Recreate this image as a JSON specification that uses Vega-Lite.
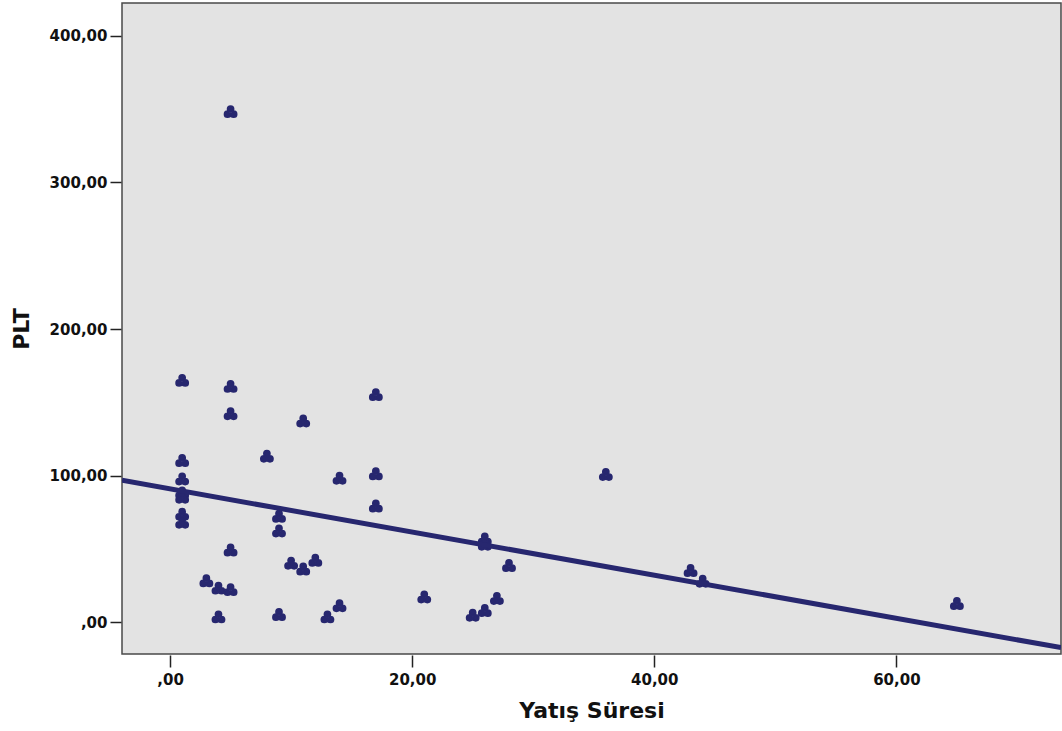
{
  "$schema": "https://vega.github.io/schema/vega-lite/v6.json",
  "width": 939,
  "height": 651,
  "autosize": {"type": "none"},
  "padding": {"left": 122, "top": 3, "right": 1, "bottom": 77},
  "background": "white",
  "config": {
    "view": {"fill": "#e3e3e3", "stroke": "#4a4a4a", "strokeWidth": 1.5},
    "axis": {
      "labelFont": "DejaVu Sans", "labelFontWeight": "bold", "labelFontSize": 15, "labelColor": "#111",
      "titleFont": "DejaVu Sans", "titleFontWeight": "bold", "titleFontSize": 22, "titleColor": "#111",
      "tickColor": "#222", "tickWidth": 1.5, "domain": false, "grid": false
    }
  },
  "data": {"values": [
    {"x": 5, "y": 348}, {"x": 1, "y": 164.7}, {"x": 5, "y": 160.6}, {"x": 5, "y": 142},
    {"x": 1, "y": 110}, {"x": 1, "y": 97.5}, {"x": 1, "y": 88}, {"x": 1, "y": 85},
    {"x": 1, "y": 73.4}, {"x": 1, "y": 68}, {"x": 5, "y": 49}, {"x": 3, "y": 28},
    {"x": 4, "y": 23}, {"x": 5, "y": 22}, {"x": 4, "y": 3.4}, {"x": 8, "y": 113},
    {"x": 11, "y": 137}, {"x": 9, "y": 72}, {"x": 9, "y": 62}, {"x": 10, "y": 40},
    {"x": 11, "y": 36}, {"x": 12, "y": 42}, {"x": 9, "y": 5}, {"x": 13, "y": 3.4},
    {"x": 14, "y": 11}, {"x": 14, "y": 98}, {"x": 17, "y": 155}, {"x": 17, "y": 101},
    {"x": 17, "y": 79}, {"x": 21, "y": 17}, {"x": 25, "y": 4.5}, {"x": 26, "y": 7.7},
    {"x": 27, "y": 16}, {"x": 26, "y": 56.5}, {"x": 26, "y": 53}, {"x": 28, "y": 38.4},
    {"x": 36, "y": 100.5}, {"x": 43, "y": 35}, {"x": 44, "y": 27.7}, {"x": 65, "y": 12.5}
  ]},
  "encoding": {
    "x": {
      "field": "x", "type": "quantitative", "title": "Yatış Süresi",
      "scale": {"domain": [-3.97, 73.6], "nice": false, "zero": false},
      "axis": {"values": [0, 20, 40, 60], "tickSize": 12, "labelPadding": 5, "titlePadding": 13, "offset": 1,
               "labelExpr": "datum.value == 0 ? ',00' : replace(format(datum.value, '.2f'), '.', ',')"}
    },
    "y": {
      "field": "y", "type": "quantitative", "title": "PLT",
      "scale": {"domain": [-21.6, 422.4], "nice": false, "zero": false},
      "axis": {"values": [0, 100, 200, 300, 400], "tickSize": 11, "labelPadding": 3, "titlePadding": 16, "offset": 1,
               "labelExpr": "datum.value == 0 ? ',00' : replace(format(datum.value, '.2f'), '.', ',')"}
    }
  },
  "layer": [
    {
      "mark": {"type": "point", "filled": true, "color": "#27276f", "stroke": "#27276f", "strokeWidth": 1.6, "opacity": 1, "size": 150,
               "shape": "M-0.5,-0.5a0.5,0.5 0 1,0 1,0a0.5,0.5 0 1,0 -1,0ZM-1,0.35a0.5,0.5 0 1,0 1,0a0.5,0.5 0 1,0 -1,0ZM0,0.35a0.5,0.5 0 1,0 1,0a0.5,0.5 0 1,0 -1,0Z"}
    },
    {
      "transform": [{"regression": "y", "on": "x", "extent": [-3.97, 73.6]}],
      "mark": {"type": "line", "color": "#27276f", "strokeWidth": 5, "clip": true}
    }
  ]
}
